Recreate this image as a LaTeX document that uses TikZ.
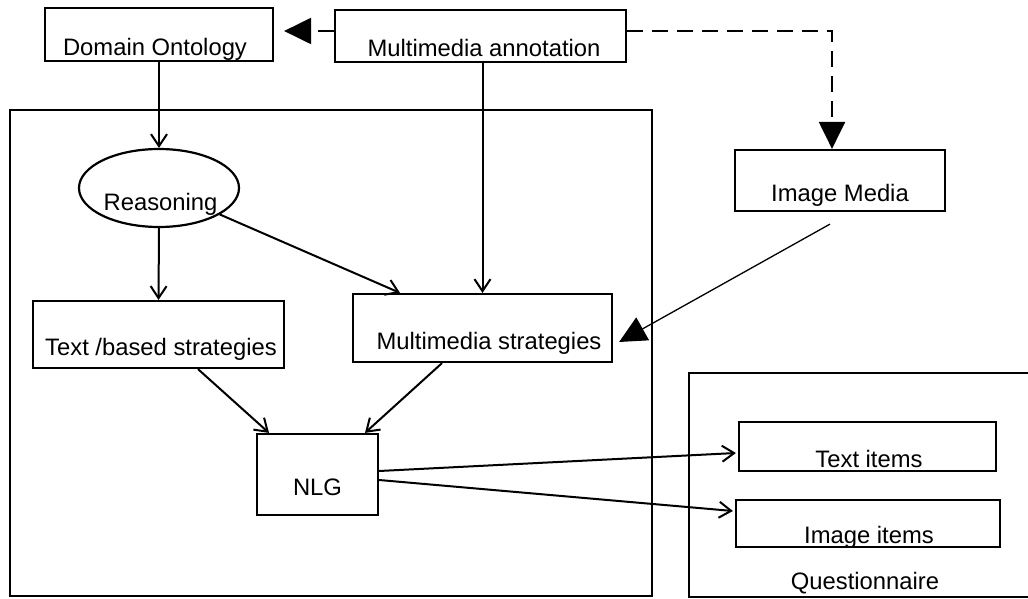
\documentclass[tikz,border=0pt]{standalone}
\usepackage{fontspec}
\setmainfont{Liberation Sans}
\usetikzlibrary{arrows.meta,shapes.geometric}
\begin{document}
\begin{tikzpicture}[x=1pt,y=-1pt,
  box/.style={draw, line width=2.2pt, inner sep=0pt},
  lbl/.style={anchor=base, inner sep=0pt, font=\fontsize{23.8}{28}\selectfont},
  arr/.style={line width=2pt, -{Straight Barb[length=12pt,width=16pt,line width=2pt]}},
  tri/.style={-{Triangle[length=27pt,width=26pt]}},
  dsh/.style={line width=2.2pt, dash pattern=on 16pt off 9pt}]
\useasboundingbox (0,0) rectangle (1028,599);
\clip (0,0) rectangle (1028,599);
% containers
\node[box, minimum width=642pt, minimum height=486pt] (sys) at (331,353) {};
\node[box, minimum width=352pt, minimum height=224pt] (qn) at (865,485) {};
\node[lbl] (qnt) at ([yshift=-104pt]qn.center) {Questionnaire};
% boxes
\node[box, minimum width=228pt, minimum height=53pt] (do) at (159,34.5) {};
\node[lbl] (dot) at ([xshift=-4pt,yshift=-21.5pt]do.center) {Domain Ontology};
\node[box, minimum width=291pt, minimum height=52pt] (ma) at (480.5,36) {};
\node[lbl] (mat) at ([xshift=3.5pt,yshift=-21pt]ma.center) {Multimedia annotation};
\node[box, minimum width=210pt, minimum height=61pt] (im) at (840,180.5) {};
\node[lbl] (imt) at ([yshift=-20.5pt]im.center) {Image Media};
\node[box, ellipse, minimum width=160pt, minimum height=78pt] (re) at (159,188) {};
\node[lbl] (ret) at ([xshift=1.5pt,yshift=-22pt]re.center) {Reasoning};
\node[box, minimum width=251pt, minimum height=67pt] (tbs) at (158.5,334.5) {};
\node[lbl] (tbst) at ([xshift=2.5pt,yshift=-20.5pt]tbs.center) {Text /based strategies};
\node[box, minimum width=259pt, minimum height=68pt] (mms) at (482.5,328) {};
\node[lbl] (mmst) at ([xshift=6.5pt,yshift=-21pt]mms.center) {Multimedia strategies};
\node[box, minimum width=121pt, minimum height=81pt] (nlg) at (317.5,474.5) {};
\node[lbl] (nlgt) at ([yshift=-20.5pt]nlg.center) {NLG};
\node[box, minimum width=257pt, minimum height=49pt] (ti) at (867.5,446.5) {};
\node[lbl] (tit) at ([xshift=1.5pt,yshift=-20.5pt]ti.center) {Text items};
\node[box, minimum width=264pt, minimum height=47pt] (ii) at (868,523.5) {};
\node[lbl] (iit) at ([xshift=1pt,yshift=-19.5pt]ii.center) {Image items};
% solid arrows
\draw[arr] (do.south) -- (re.north);
\draw[arr] (re.south) -- (tbs.north);
\draw[arr] (re) -- ([xshift=-82.5pt]mms.north);
\draw[arr] (ma.south -| mms.north) -- (mms.north);
\draw[arr] ([xshift=39.5pt]tbs.south) -- ([xshift=-48.5pt]nlg.north);
\draw[arr] ([xshift=-40.5pt]mms.south) -- ([xshift=47.5pt]nlg.north);
\draw[arr] ([yshift=3.5pt]nlg.east) -- ([xshift=-2pt,yshift=-6.5pt]ti.west);
\draw[arr] ([yshift=-5.5pt]nlg.east) -- ([xshift=-2pt,yshift=12.5pt]ii.west);
% dashed arrows
\coordinate (dA) at ([yshift=5pt]ma.west);
\path (dA -| do.east) coordinate (dB);
\draw[dsh, tri, shorten >=10pt] (dA) -- (dB);
\coordinate (dC) at ([yshift=5pt]ma.east);
\coordinate (dD) at ([xshift=-8pt]im.north);
\draw[dsh, tri] (dC) -| (dD);
% thin arrow from image media
\draw[line width=1.3pt, tri] ([xshift=-10pt,yshift=-12pt]im.south) -- ([xshift=6pt,yshift=-14pt]mms.east);
\end{tikzpicture}
\end{document}
